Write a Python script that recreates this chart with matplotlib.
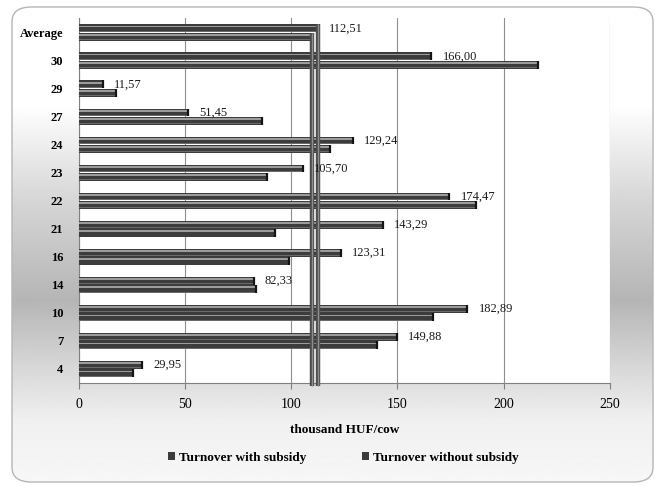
import numpy as np
import matplotlib
matplotlib.use("Agg")
import matplotlib.pyplot as plt
from matplotlib.patches import FancyBboxPatch

# Farms listed top to bottom, with the overall average first
categories = ["Average", "30", "29", "27", "24", "23", "22", "21", "16", "14", "10", "7", "4"]
with_subsidy = [112.51, 166.00, 11.57, 51.45, 129.24, 105.70, 174.47, 143.29, 123.31, 82.33, 182.89, 149.88, 29.95]
without_subsidy = [109.6, 216.0, 17.5, 86.2, 118.3, 88.5, 187.0, 92.6, 98.9, 83.5, 166.9, 140.3, 25.5]
x_ticks = [0, 50, 100, 150, 200, 250]
series_names = ["Turnover with subsidy", "Turnover without subsidy"]
x_label = "thousand HUF/cow"

serif = ["Liberation Serif", "DejaVu Serif"]
plt.rcParams["font.family"] = serif

W, H = 655, 486
fig = plt.figure(figsize=(W / 100, H / 100), dpi=100)
fig.patch.set_facecolor("white")

# Rounded chart frame filled with a soft vertical grey band
frame = FancyBboxPatch((12 / W, 4 / H), 641 / W, 475 / H,
                       boxstyle="round,pad=0,rounding_size=0.03",
                       transform=fig.transFigure, facecolor="none",
                       edgecolor="#b5b5b5", lw=1.0, zorder=2)
bg = fig.add_axes([0, 0, 1, 1], zorder=-5)
bg.set_axis_off()
ypix = np.arange(H)
shade = np.interp(ypix, [0, 105, 200, 300, 370, 420, 486],
                  [1.0, 1.0, 0.84, 0.71, 0.85, 0.94, 0.97])
grad = np.repeat(shade[:, None], 4, axis=1)
im = bg.imshow(grad, extent=[0, 1, 0, 1], aspect="auto", cmap="gray",
               vmin=0, vmax=1, origin="upper", interpolation="bilinear")
bg.set_xlim(0, 1)
bg.set_ylim(0, 1)
clip = FancyBboxPatch((12 / W, 4 / H), 641 / W, 475 / H,
                      boxstyle="round,pad=0,rounding_size=0.03",
                      transform=fig.transFigure, facecolor="none", edgecolor="none")
bg.add_patch(clip)
im.set_clip_path(clip)
fig.patches.append(frame)

ax = fig.add_axes([78.5 / W, 103 / H, (610 - 78.5) / W, (467.5 - 103) / H])
ax.set_facecolor("white")

y = np.arange(len(categories))
h = 0.28
off = 0.15

def draw_bars(pos, values, label):
    # dark body, light upper sheen and a darker end face for a cylinder look
    bars = ax.barh(pos, values, height=h, color="#3c3c3c", edgecolor="none",
                   label=label, zorder=3)
    ax.barh(pos - h * 0.22, values, height=h * 0.22, color="#9c9c9c",
            edgecolor="none", zorder=3.1)
    ax.barh(pos + h * 0.38, values, height=h * 0.12, color="#6a6a6a",
            edgecolor="none", zorder=3.1)
    ax.vlines(values, pos - h / 2, pos + h / 2, colors="#141414", lw=1.6, zorder=3.2)
    return bars

draw_bars(y - off, with_subsidy, series_names[0])
draw_bars(y + off, without_subsidy, series_names[1])

# Vertical markers at the two averages
avg_with, avg_without = with_subsidy[0], without_subsidy[0]
y_bottom = len(categories) - 0.5 + 0.12
for val, top in ((avg_without, 0 + off - h / 2), (avg_with, 0 - off - h / 2)):
    ax.vlines(val, top, y_bottom, colors="#4d4d4d", lw=3.2, zorder=4, clip_on=False)
    ax.vlines(val, top, y_bottom, colors="#8e8e8e", lw=1.0, zorder=4.1, clip_on=False)

# Value labels for the subsidised turnover
for yi, v in zip(y, with_subsidy):
    ax.annotate(f"{v:.2f}".replace(".", ","), (v, yi - off), xytext=(8, 0),
                textcoords="offset points", va="center", ha="left",
                fontsize=9, color="#1a1a1a", zorder=5)

ax.set_xlim(0, 250)
ax.set_ylim(len(categories) - 0.5, -0.5)
ax.set_xticks(x_ticks)
ax.set_xticklabels([str(t) for t in x_ticks], fontsize=10)
ax.set_yticks(y)
ax.set_yticklabels(categories, fontsize=9, fontweight="bold")
ax.tick_params(axis="y", length=0, pad=11)
ax.tick_params(axis="x", length=4, width=0.8, color="#808080", direction="out", pad=7)
ax.xaxis.grid(True, color="#8f8f8f", lw=0.8, zorder=0)
ax.set_axisbelow(True)
for s in ("top", "right"):
    ax.spines[s].set_visible(False)
for s in ("left", "bottom"):
    ax.spines[s].set_color("#808080")
    ax.spines[s].set_linewidth(0.8)

ax.set_xlabel(x_label, fontsize=9.5, fontweight="bold", labelpad=9)

handles, labels = ax.get_legend_handles_labels()
leg = fig.legend(handles, labels, loc="center", bbox_to_anchor=(343 / W, 1 - 458 / H),
                 ncol=2, frameon=False, handlelength=0.55, handleheight=0.55,
                 handletextpad=0.3, columnspacing=4.2,
                 prop={"family": serif, "weight": "bold", "size": 9.5})

fig.savefig("out.png", dpi=100, facecolor="white")
